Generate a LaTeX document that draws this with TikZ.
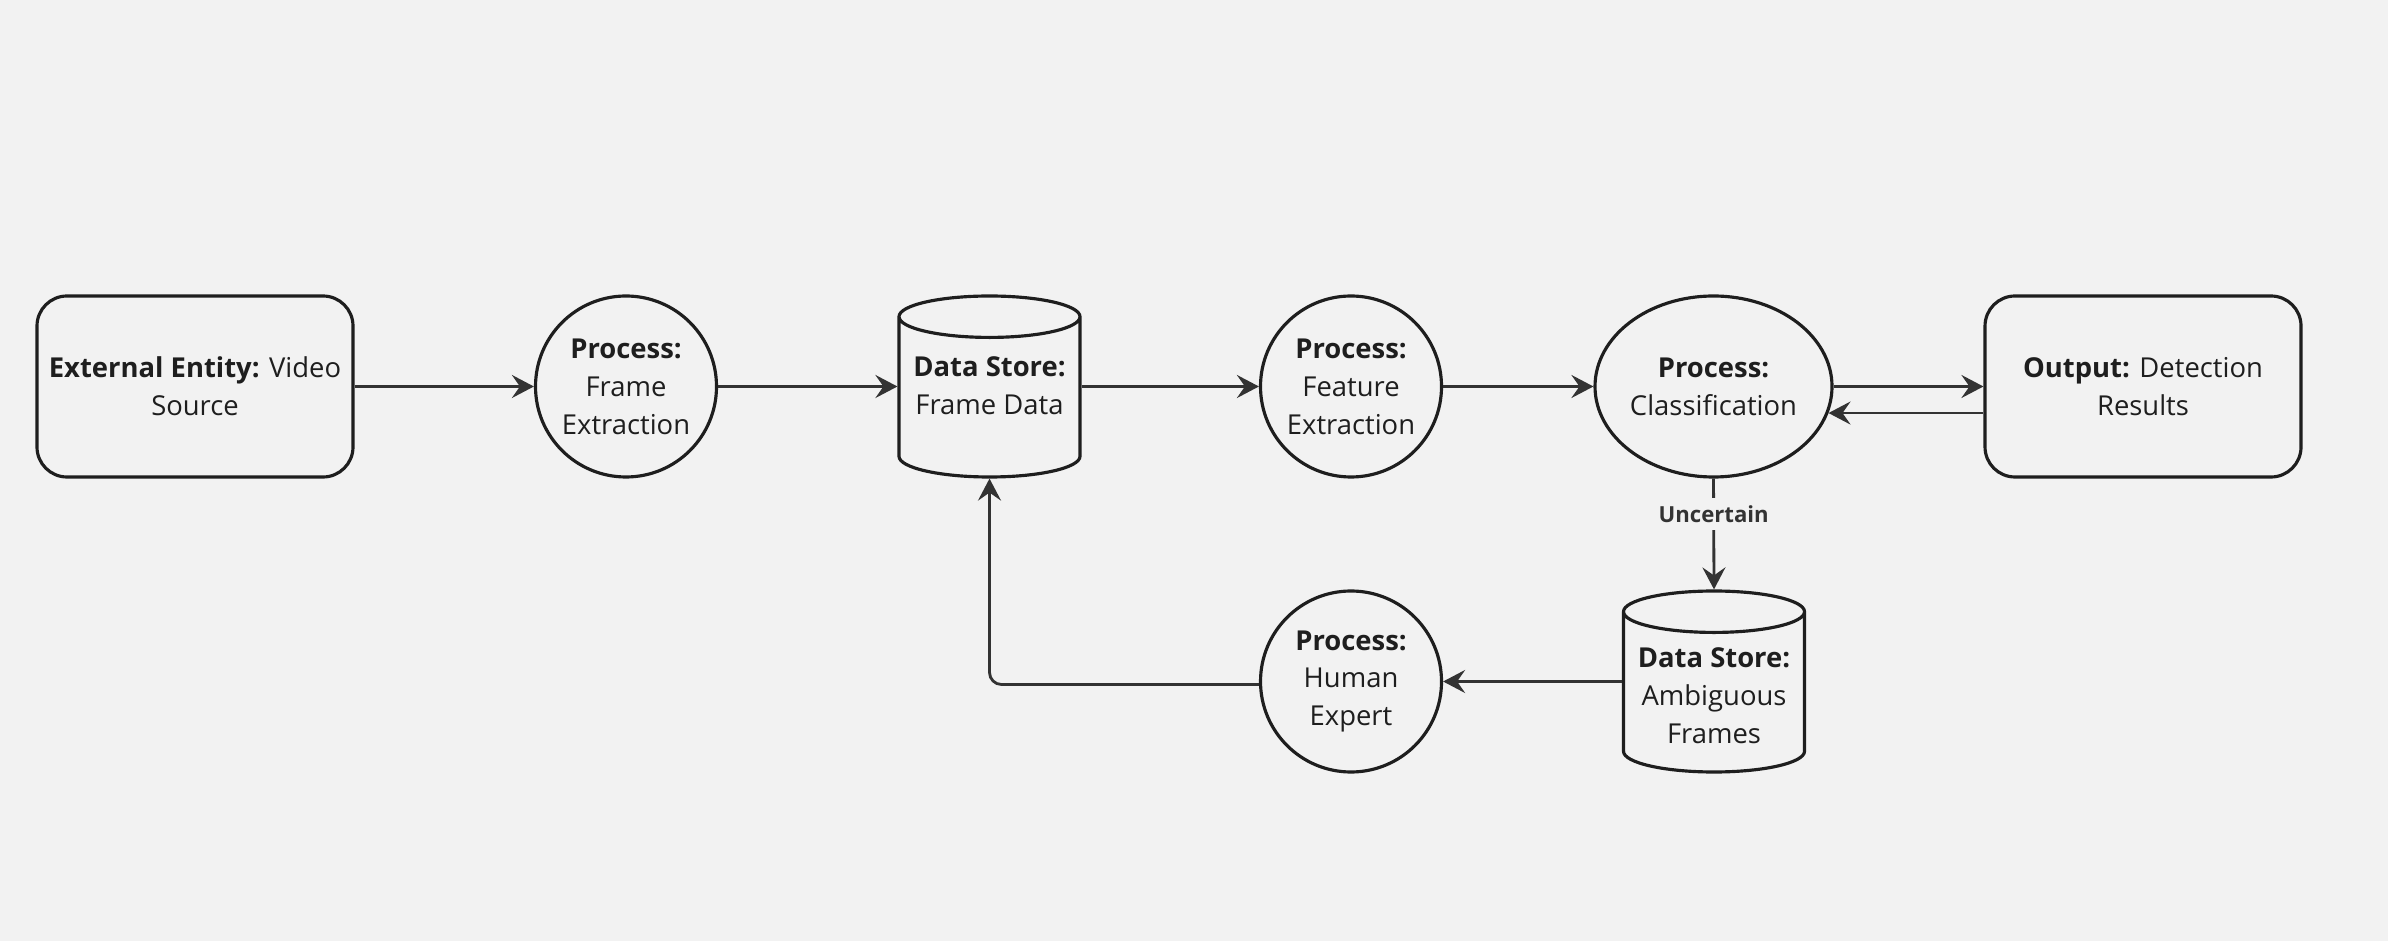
\documentclass[tikz,border=0pt]{standalone}
\usepackage{fontspec}
\setmainfont{Open Sans}
\usepackage{tikz}
\usetikzlibrary{arrows.meta, shapes.geometric, calc}
\definecolor{bgcol}{HTML}{F2F2F2}
\definecolor{inkcol}{HTML}{1E1E1E}
\definecolor{flowcol}{HTML}{333333}
\tikzset{>={Stealth[length=2.2mm, width=2.3mm, inset=0.8mm]}}
\tikzset{
  entitybox/.style={draw=inkcol, line width=0.9pt, rounded corners=0.3cm,
    minimum width=3.16cm, minimum height=1.81cm, inner sep=1pt, align=center},
  procircle/.style={draw=inkcol, line width=0.9pt, circle, minimum size=1.81cm,
    inner sep=0pt, align=center},
  procellipse/.style={draw=inkcol, line width=0.9pt, ellipse, minimum width=2.37cm,
    minimum height=1.81cm, inner sep=0pt, align=center},
  storecyl/.style={draw=inkcol, line width=0.9pt, cylinder, shape border rotate=90,
    aspect=0.26, minimum width=1.81cm, minimum height=1.81cm, inner sep=1pt,
    align=center, anchor=shape center},
  flow/.style={->, draw=flowcol, line width=0.8pt}
}

\begin{document}
\begin{tikzpicture}[font=\fontsize{7.8}{10.8}\selectfont, text=inkcol]
            \fill[bgcol] (0,0) rectangle (23.88,9.41);
            \useasboundingbox (0,0) rectangle (23.88,9.41);

            % top row
            \node[entitybox] (src) at (1.95, 5.545) {\textbf{External Entity:} Video\\Source};
            \node[procircle] (fext) at (6.26, 5.545) {\textbf{Process:}\\Frame\\Extraction};
            \node[storecyl, text depth=0.3cm] (fdata) at (9.895, 5.545) {\textbf{Data Store:}\\Frame Data};
            \node[procircle] (feat) at (13.51, 5.545) {\textbf{Process:}\\Feature\\Extraction};
            \node[procellipse] (cls) at (17.135, 5.545) {\textbf{Process:}\\Classification};
            \node[entitybox] (res) at (21.43, 5.545) {\textbf{Output:} Detection\\Results};

            % bottom row
            \node[storecyl] (amb) at (17.14, 2.595) {\textbf{Data Store:}\\Ambiguous\\Frames};
            \node[procircle] (hum) at (13.51, 2.595) {\textbf{Process:}\\Human\\Expert};

            \draw[flow] (src) -- (fext);
            \draw[flow] (fext.east) -- (fext.east -| fdata.west);
            \draw[flow] (feat.west -| fdata.east) -- (feat.west);
            \draw[flow] (feat) -- (cls);
            \draw[flow] (cls) -- (res);
            \draw[flow] (res.west |- cls.-13) -- (cls.-13);
            \draw[flow] (cls.south) -- node[pos=0.32, fill=bgcol, inner sep=2pt,
              font=\fontsize{6.3}{7}\selectfont\bfseries, text=flowcol] {Uncertain} (amb.north);
            \draw[flow] (hum.east -| amb.west) -- (hum.east);
            \draw[flow, rounded corners=0.12cm] ([yshift=-0.03cm]hum.west) -| (fdata.south);
        \end{tikzpicture}
\end{document}
